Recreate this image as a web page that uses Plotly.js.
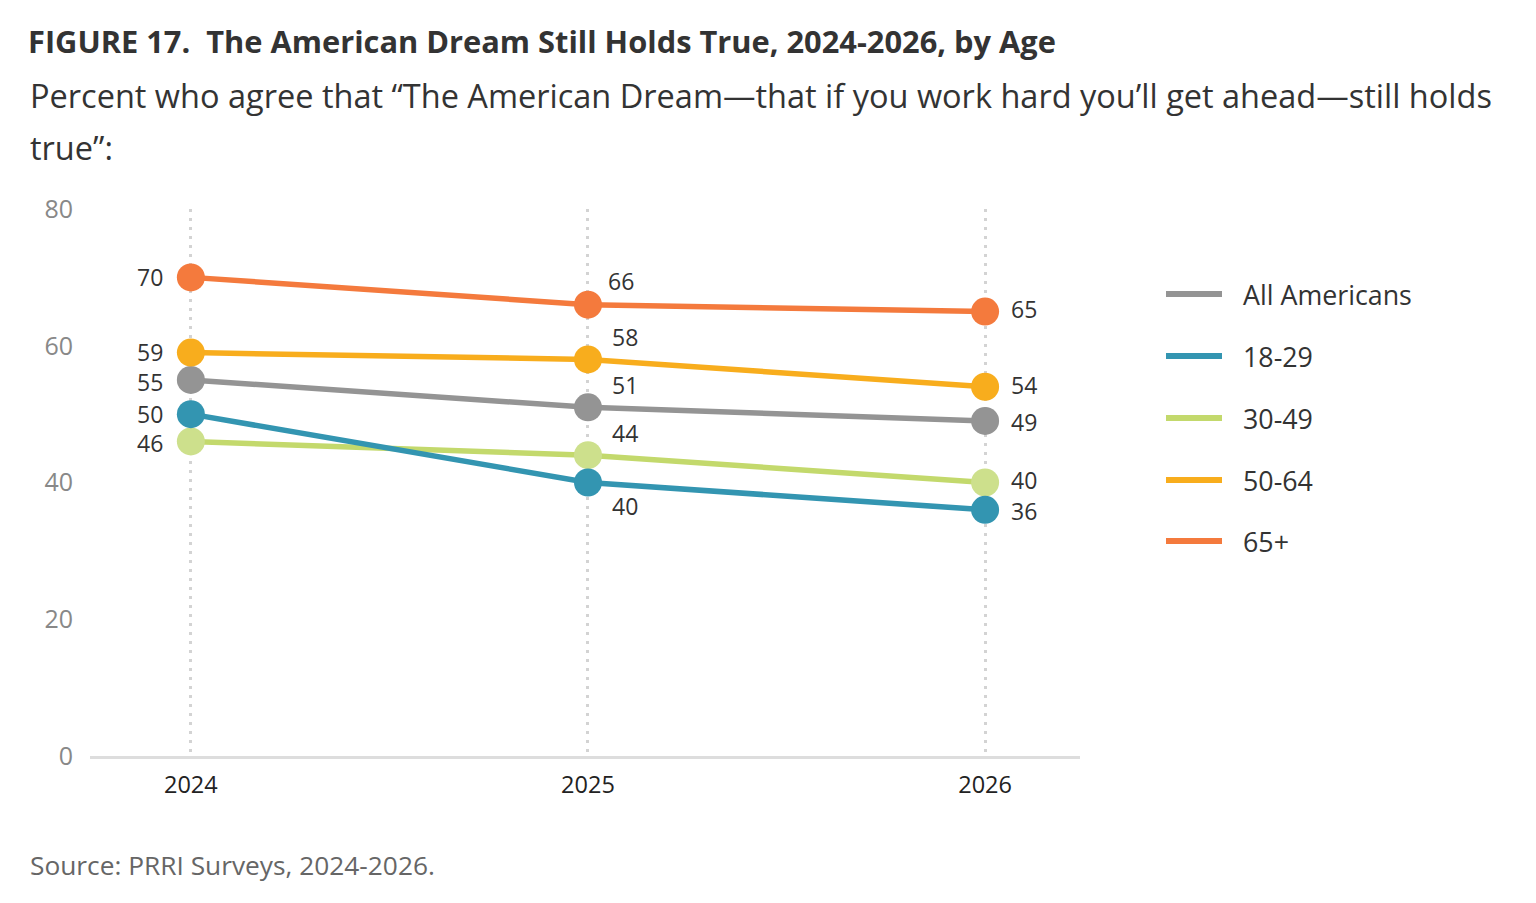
<!DOCTYPE html>
<html>
<head>
<meta charset="utf-8">
<script src="https://cdn.plot.ly/plotly-3.0.1.min.js"></script>
<style>html,body{margin:0;padding:0;background:#fff;}#chart{width:1536px;height:903px;}</style>
</head>
<body>
<div id="chart"></div>
<script>
// ---- data ----
const years = [2024, 2025, 2026];
const seriesNames = ["All Americans", "18-29", "30-49", "50-64", "65+"];
const allAmericans = [55, 51, 49];
const age18to29 = [50, 40, 36];
const age30to49 = [46, 44, 40];
const age50to64 = [59, 58, 54];
const age65plus = [70, 66, 65];
const yTicks = [0, 20, 40, 60, 80];

// ---- styling ----
const lineColors = ["#949494", "#3395b1", "#c3d96c", "#f8ad1d", "#f47a3d"];
const markerColors = ["#949494", "#3395b1", "#cde08c", "#f8ad1d", "#f47a3d"];
const seriesValues = [allAmericans, age18to29, age30to49, age50to64, age65plus];
// label placement per series per year: [xanchor, xshift, yshift]
const labelPlace = [
  [["right", -26, -2], ["left", 22, 22], ["left", 24, -1]],
  [["right", -26, 0], ["left", 22, -23], ["left", 24, -1]],
  [["right", -26, -2], ["left", 22, 22], ["left", 24, 3]],
  [["right", -26, 1], ["left", 22, 22], ["left", 24, 2]],
  [["right", -26, 0], ["left", 18, 24], ["left", 24, 3]]
];

const FONT = "Open Sans, Noto Sans, sans-serif";
const drawOrder = [2, 1, 0, 3, 4];
const traces = drawOrder.map(i => ({
  x: years, y: seriesValues[i], name: seriesNames[i],
  type: "scatter", mode: "lines+markers",
  line: {color: lineColors[i], width: 5.5},
  marker: {color: markerColors[i], size: 28},
  showlegend: false, hoverinfo: "skip", cliponaxis: false
}));

const annotations = [];
seriesValues.forEach((vals, i) => {
  vals.forEach((v, j) => {
    const p = labelPlace[i][j];
    annotations.push({
      x: years[j], y: v, xref: "x", yref: "y", text: String(v), showarrow: false,
      xanchor: p[0], yanchor: "middle", xshift: p[1], yshift: p[2],
      font: {family: FONT, size: 23, color: "#333333"}
    });
  });
});

// plot area pixel geometry (for paper-coordinate text outside the plot)
const L = 90, R = 1080, T = 209, B = 756;
const px = x => (x - L) / (R - L);
const py = y => (B - y) / (B - T);

annotations.push({xref: "paper", yref: "paper", x: px(28), y: py(95), xanchor: "left", yanchor: "middle",
  text: "Percent who agree that \u201cThe American Dream\u2014that if you work hard you\u2019ll get ahead\u2014still holds",
  showarrow: false, font: {family: FONT, size: 32.5, color: "#333333"}});
annotations.push({xref: "paper", yref: "paper", x: px(28), y: py(147), xanchor: "left", yanchor: "middle",
  text: "true\u201d:", showarrow: false, font: {family: FONT, size: 32.5, color: "#333333"}});
annotations.push({xref: "paper", yref: "paper", x: px(28), y: py(865), xanchor: "left", yanchor: "middle",
  text: "Source: PRRI Surveys, 2024-2026.", showarrow: false, font: {family: FONT, size: 26.3, color: "#666666"}});

// legend
const legendY = [294, 356, 418, 480, 541];
const shapes = [];
seriesNames.forEach((n, i) => {
  shapes.push({type: "line", xref: "paper", yref: "paper", x0: px(1166), x1: px(1222), y0: py(legendY[i]), y1: py(legendY[i]),
    line: {color: lineColors[i], width: 6}});
  annotations.push({xref: "paper", yref: "paper", x: px(1241), y: py(legendY[i]), xanchor: "left", yanchor: "middle",
    text: n, showarrow: false, font: {family: FONT, size: 26.8, color: "#333333"}});
});

const layout = {
  width: 1536, height: 903,
  margin: {l: L, r: 1536 - R, t: T, b: 903 - B},
  paper_bgcolor: "#ffffff", plot_bgcolor: "#ffffff",
  font: {family: FONT},
  title: {
    text: "<b>FIGURE 17.\u00a0 The American Dream Still Holds True, 2024-2026, by Age</b>",
    xref: "container", yref: "container", x: 28 / 1536, xanchor: "left", y: 1 - 42 / 903, yanchor: "middle",
    font: {family: FONT, size: 30.8, color: "#333333"}
  },
  xaxis: {
    range: [2023.746, 2026.239], tickvals: years, ticktext: years.map(String),
    showgrid: true, gridcolor: "#d3d3d3", gridwidth: 3, griddash: "3px,6px",
    showline: true, linecolor: "#dddddd", linewidth: 3, zeroline: false,
    ticks: "", ticklabelstandoff: 6, tickfont: {family: FONT, size: 23.5, color: "#222222"}, fixedrange: true
  },
  yaxis: {
    range: [0, 80], tickvals: yTicks, showgrid: false, zeroline: false, showline: false,
    ticks: "", ticklabelstandoff: 16, tickfont: {family: FONT, size: 25, color: "#888888"}, fixedrange: true
  },
  shapes: shapes,
  annotations: annotations,
  showlegend: false
};

Plotly.newPlot("chart", traces, layout, {displayModeBar: false, staticPlot: true});
</script>
</body>
</html>
